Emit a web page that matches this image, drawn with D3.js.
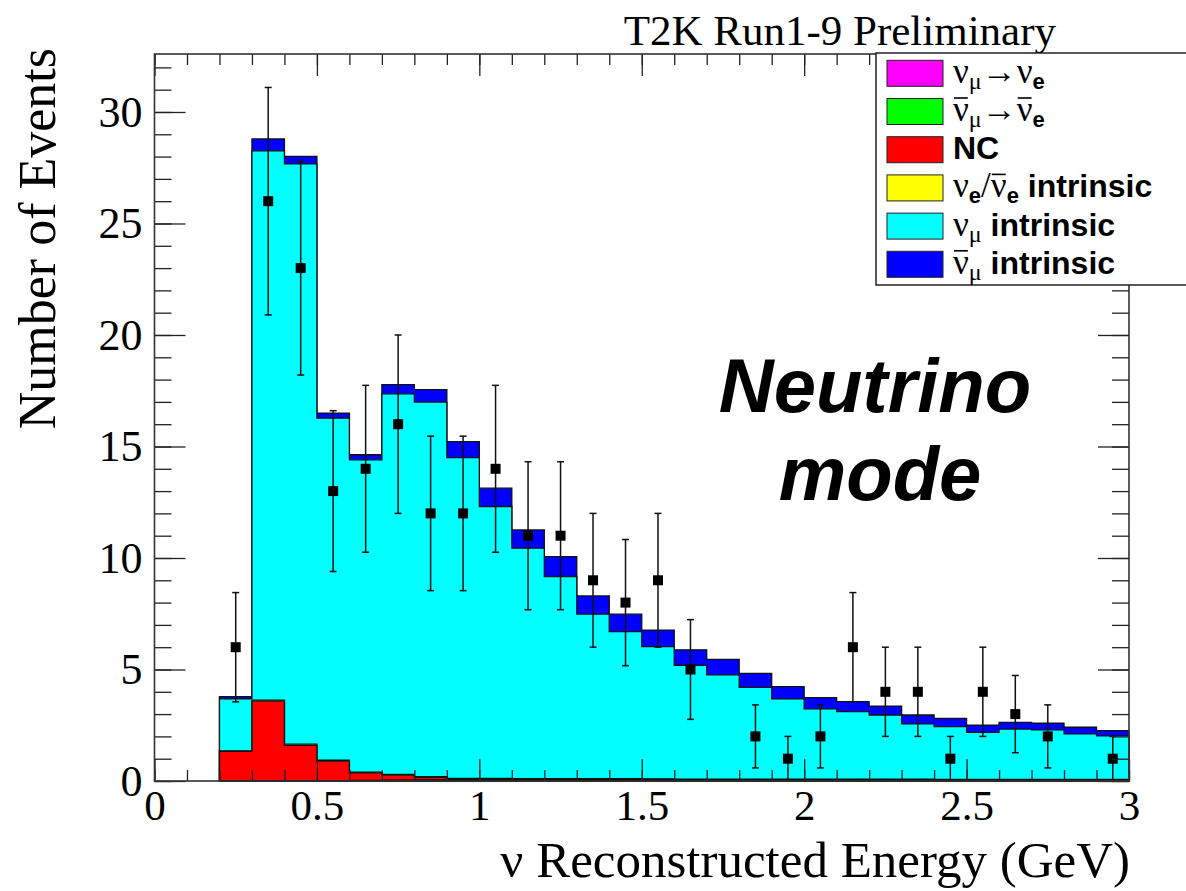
<!DOCTYPE html>
<html>
<head>
<meta charset="utf-8">
<script src="https://cdn.jsdelivr.net/npm/d3@7"></script>
<style>
  body { margin: 0; background: #fff; }
  svg { display: block; }
</style>
</head>
<body>
<div id="canvas"></div>
<script>
// bin edges of the reconstructed energy histogram (GeV)
const binEdges = [0.2, 0.3, 0.4, 0.5, 0.6, 0.7, 0.8, 0.9, 1.0, 1.1, 1.2, 1.3, 1.4, 1.5,
  1.6, 1.7, 1.8, 1.9, 2.0, 2.1, 2.2, 2.3, 2.4, 2.5, 2.6, 2.7, 2.8, 2.9, 3.0];

// observed events per bin
const observed = [6, 26, 23, 13, 14, 16, 12, 12, 14, 11, 11, 9, 8, 9, 5, 0, 2, 1, 2, 6,
  4, 4, 1, 4, 3, 2, 0, 1];

// MC prediction per component (stacked bottom to top)
const numuToNue = [0.00, 0.01, 0.01, 0.01, 0.02, 0.03, 0.05, 0.05, 0.05, 0.04, 0.04, 0.04, 0.04, 0.04,
  0.03, 0.03, 0.03, 0.03, 0.03, 0.03, 0.03, 0.03, 0.02, 0.02, 0.02, 0.02, 0.02, 0.02];
const numubarToNuebar = [0.01, 0.01, 0.01, 0.01, 0.01, 0.01, 0.01, 0.01, 0.01, 0.01, 0.01, 0.01, 0.01, 0.01,
  0.01, 0.01, 0.01, 0.01, 0.01, 0.01, 0.01, 0.01, 0.01, 0.01, 0.01, 0.01, 0.01, 0.01];
const ncEvents = [1.32, 3.56, 1.58, 0.87, 0.33, 0.22, 0.10, 0.03, 0.03, 0.03, 0.03, 0.02, 0.02, 0.02,
  0.02, 0.02, 0.02, 0.02, 0.02, 0.02, 0.02, 0.02, 0.02, 0.02, 0.02, 0.02, 0.02, 0.02];
const nueIntrinsic = [0.02, 0.05, 0.05, 0.04, 0.04, 0.04, 0.04, 0.03, 0.03, 0.03, 0.03, 0.03, 0.03, 0.02,
  0.02, 0.02, 0.02, 0.02, 0.02, 0.02, 0.02, 0.02, 0.02, 0.02, 0.02, 0.02, 0.02, 0.02];
const numuIntrinsic = [2.33, 24.63, 26.02, 15.34, 14.00, 17.06, 16.79, 14.38, 12.19, 10.33, 9.06, 7.38, 6.60, 5.94,
  5.11, 4.68, 4.12, 3.60, 3.15, 3.03, 2.88, 2.48, 2.37, 2.11, 2.26, 2.22, 2.04, 1.95];
const numubarIntrinsic = [0.10, 0.53, 0.34, 0.23, 0.23, 0.41, 0.56, 0.72, 0.82, 0.82, 0.89, 0.82, 0.78, 0.74,
  0.69, 0.69, 0.63, 0.55, 0.51, 0.45, 0.40, 0.40, 0.37, 0.33, 0.30, 0.30, 0.30, 0.24];

const xTicks = [0, 0.5, 1, 1.5, 2, 2.5, 3];
const yTicks = [0, 5, 10, 15, 20, 25, 30];

const keys = ["numuToNue", "numubarToNuebar", "nc", "nueIntr", "numuIntr", "numubarIntr"];
const colors = {
  numuToNue: "#ff00ff", numubarToNuebar: "#00ff00", nc: "#ff0000",
  nueIntr: "#ffff00", numuIntr: "#00ffff", numubarIntr: "#0000ff"
};

const width = 1186;
const height = 891;
const frame = { left: 154.5, top: 54, right: 1129, bottom: 781 };

const svg = d3.select("#canvas").append("svg")
  .attr("width", width)
  .attr("height", height);

const x = d3.scaleLinear().domain([0, 3]).range([frame.left, frame.right]);
const y = d3.scaleLinear().domain([0, 32.6]).range([frame.bottom, frame.top]);

// stacked MC
const rows = observed.map((d, i) => ({
  numuToNue: numuToNue[i], numubarToNuebar: numubarToNuebar[i], nc: ncEvents[i],
  nueIntr: nueIntrinsic[i], numuIntr: numuIntrinsic[i], numubarIntr: numubarIntrinsic[i]
}));
const stacked = d3.stack().keys(keys)(rows);

const area = d3.area()
  .curve(d3.curveStepAfter)
  .x(d => x(d.x))
  .y0(y(0))
  .y1(d => y(d.top));

stacked.slice().reverse().forEach(layer => {
  const pts = layer.map((d, i) => ({ x: binEdges[i], top: d[1] }));
  pts.push({ x: binEdges[binEdges.length - 1], top: layer[layer.length - 1][1] });
  svg.append("path")
    .attr("d", area(pts))
    .attr("fill", colors[layer.key])
    .attr("stroke", "#111")
    .attr("stroke-width", 1.3);
});

// data points with sqrt(N) errors
const pts = observed.map((n, i) => ({ x: (binEdges[i] + binEdges[i + 1]) / 2, n: n }))
  .filter(d => d.n > 0);

const dataG = svg.append("g");
dataG.selectAll("line.err").data(pts).enter().append("line")
  .attr("class", "err")
  .attr("x1", d => x(d.x)).attr("x2", d => x(d.x))
  .attr("y1", d => y(d.n - Math.sqrt(d.n)))
  .attr("y2", d => y(d.n + Math.sqrt(d.n)))
  .attr("stroke", "#111").attr("stroke-width", 1.5);
[-1, 1].forEach(s => {
  dataG.selectAll("line.cap" + (s + 1)).data(pts).enter().append("line")
    .attr("x1", d => x(d.x) - 3.5).attr("x2", d => x(d.x) + 3.5)
    .attr("y1", d => y(d.n + s * Math.sqrt(d.n)))
    .attr("y2", d => y(d.n + s * Math.sqrt(d.n)))
    .attr("stroke", "#111").attr("stroke-width", 1.5);
});
dataG.selectAll("rect").data(pts).enter().append("rect")
  .attr("x", d => x(d.x) - 5)
  .attr("y", d => y(d.n) - 5)
  .attr("width", 10).attr("height", 10)
  .attr("fill", "#000");

// axes (ROOT style: ticks inside, on all four sides)
const minorY = d3.range(0, 33);
const minorX = d3.range(0, 31).map(d => d / 10);
const tickStyle = g => {
  g.select(".domain").remove();
  g.selectAll("line").attr("stroke", "#222").attr("stroke-width", 1.3);
  g.selectAll("text").attr("fill", "#000")
    .style("font-family", "'Liberation Serif', 'Times New Roman', serif")
    .style("font-size", "44px");
};

svg.append("g").attr("transform", `translate(${frame.left},0)`)
  .call(d3.axisLeft(y).tickValues(minorY).tickSize(-17).tickFormat("")).call(tickStyle);
svg.append("g").attr("transform", `translate(${frame.left},0)`)
  .call(d3.axisLeft(y).tickValues(yTicks).tickSize(-31).tickPadding(12).tickFormat(d3.format("d"))).call(tickStyle);
svg.append("g").attr("transform", `translate(${frame.right},0)`)
  .call(d3.axisRight(y).tickValues(minorY).tickSize(-17).tickFormat("")).call(tickStyle);
svg.append("g").attr("transform", `translate(${frame.right},0)`)
  .call(d3.axisRight(y).tickValues(yTicks).tickSize(-31).tickFormat("")).call(tickStyle);

svg.append("g").attr("transform", `translate(0,${frame.bottom})`)
  .call(d3.axisBottom(x).tickValues(minorX).tickSize(-11).tickFormat("")).call(tickStyle);
svg.append("g").attr("transform", `translate(0,${frame.bottom})`)
  .call(d3.axisBottom(x).tickValues(xTicks).tickSize(-22).tickPadding(8).tickFormat(d => d)).call(tickStyle)
  .call(g => g.selectAll("text").style("font-size", "43px"));
svg.append("g").attr("transform", `translate(0,${frame.top})`)
  .call(d3.axisTop(x).tickValues(minorX).tickSize(-11).tickFormat("")).call(tickStyle);
svg.append("g").attr("transform", `translate(0,${frame.top})`)
  .call(d3.axisTop(x).tickValues(xTicks).tickSize(-22).tickFormat("")).call(tickStyle);

svg.append("rect")
  .attr("x", frame.left).attr("y", frame.top)
  .attr("width", frame.right - frame.left).attr("height", frame.bottom - frame.top)
  .attr("fill", "none").attr("stroke", "#333").attr("stroke-width", 1.6);

// titles
const serif = "'Liberation Serif', 'Times New Roman', serif";
const sans = "'Liberation Sans', Arial, Helvetica, sans-serif";

svg.append("text")
  .attr("x", 1056).attr("y", 45)
  .attr("text-anchor", "end")
  .style("font-family", serif).style("font-size", "43px")
  .text("T2K Run1-9 Preliminary");

svg.append("text")
  .attr("transform", "translate(55,48) rotate(-90)")
  .attr("text-anchor", "end")
  .style("font-family", serif).style("font-size", "52px")
  .text("Number of Events");

svg.append("text")
  .attr("x", 1130).attr("y", 877)
  .attr("text-anchor", "end")
  .style("font-family", serif).style("font-size", "51px")
  .text("ν Reconstructed Energy (GeV)");

svg.append("text")
  .attr("x", 875).attr("y", 412)
  .attr("text-anchor", "middle")
  .style("font-family", sans).style("font-size", "76px")
  .style("font-weight", "bold").style("font-style", "italic")
  .text("Neutrino");
svg.append("text")
  .attr("x", 880).attr("y", 500)
  .attr("text-anchor", "middle")
  .style("font-family", sans).style("font-size", "76px")
  .style("font-weight", "bold").style("font-style", "italic")
  .text("mode");

// legend
const legend = svg.append("g");
legend.append("rect")
  .attr("x", 876).attr("y", 53)
  .attr("width", 330).attr("height", 232)
  .attr("fill", "#fff").attr("stroke", "#222").attr("stroke-width", 1.5);

// label parts: t text, s subscript, b overbar, g greek (serif)
const legendLabels = [
  [{ t: "ν", g: 1 }, { t: "μ", g: 1, s: 1 }, { t: "→", g: 1 }, { t: "ν", g: 1 }, { t: "e", s: 1 }],
  [{ t: "ν", g: 1, b: 1 }, { t: "μ", g: 1, s: 1 }, { t: "→", g: 1 }, { t: "ν", g: 1, b: 1 }, { t: "e", s: 1 }],
  [{ t: "NC" }],
  [{ t: "ν", g: 1 }, { t: "e", s: 1 }, { t: "/", g: 1 }, { t: "ν", g: 1, b: 1 }, { t: "e", s: 1 }, { t: " intrinsic" }],
  [{ t: "ν", g: 1 }, { t: "μ", g: 1, s: 1 }, { t: " intrinsic" }],
  [{ t: "ν", g: 1, b: 1 }, { t: "μ", g: 1, s: 1 }, { t: " intrinsic" }]
];

keys.forEach((k, i) => {
  const cy = 73.3 + i * 38.2;
  const base = cy + 9.5;
  legend.append("rect")
    .attr("x", 887).attr("y", cy - 13)
    .attr("width", 56).attr("height", 26)
    .attr("fill", colors[k]).attr("stroke", "#222").attr("stroke-width", 1);
  const txt = legend.append("text")
    .attr("x", 953).attr("y", base)
    .style("font-size", "32px");
  let shifted = false;
  const bars = [];
  legendLabels[i].forEach(p => {
    const sp = txt.append("tspan").text(p.t);
    sp.style("font-family", p.g ? serif : sans)
      .style("font-weight", p.g ? "normal" : "bold");
    if (p.s) {
      sp.style("font-size", p.g ? "24px" : "22px");
      if (!shifted) { sp.attr("dy", 6); shifted = true; }
    } else {
      if (shifted) { sp.attr("dy", -6); shifted = false; }
      if (p.g) sp.style("font-size", "35px");
    }
    if (p.b) bars.push(sp);
  });
  // overbars for antineutrinos
  bars.forEach(sp => {
    const n = sp.node();
    const s = n.getStartPositionOfChar(0);
    const e = n.getEndPositionOfChar(0);
    legend.append("line")
      .attr("x1", s.x + 1).attr("x2", e.x - 1)
      .attr("y1", base - 23).attr("y2", base - 23)
      .attr("stroke", "#000").attr("stroke-width", 1.6);
  });
});
</script>
</body>
</html>
